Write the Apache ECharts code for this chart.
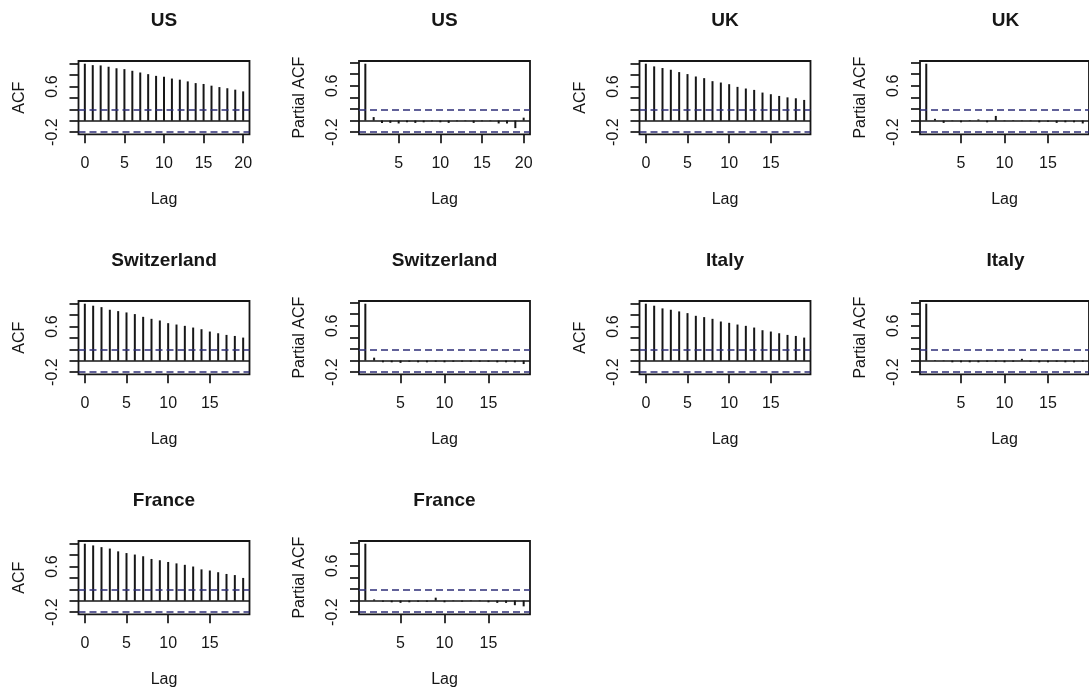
<!DOCTYPE html>
<html>
<head>
<meta charset="utf-8">
<script src="https://cdn.jsdelivr.net/npm/echarts@6/dist/echarts.min.js"></script>
<style>
  html, body { margin: 0; padding: 0; background: #ffffff; }
  #chart { width: 1089px; height: 689px; }
</style>
</head>
<body>
<div id="chart"></div>
<script>
// Sample autocorrelation (ACF, from lag 0) and partial autocorrelation
// (PACF, from lag 1) of each country's series.
const usAcf = [1.00, 0.975, 0.97, 0.947, 0.92, 0.905, 0.876, 0.846, 0.817, 0.787, 0.77,
               0.74, 0.72, 0.69, 0.66, 0.645, 0.615, 0.59, 0.57, 0.545, 0.515];
const usPacf = [0.98, 0.06, -0.04, -0.04, -0.05, -0.03, -0.04, -0.03, -0.01, -0.03,
                -0.04, -0.01, -0.01, -0.04, -0.01, -0.01, -0.05, -0.05, -0.13, 0.05];
const ukAcf = [1.00, 0.953, 0.924, 0.894, 0.853, 0.818, 0.776, 0.747, 0.694, 0.67,
               0.641, 0.594, 0.565, 0.541, 0.494, 0.465, 0.435, 0.41, 0.394, 0.365];
const ukPacf = [0.98, 0.03, -0.04, -0.01, -0.03, 0.01, 0.02, -0.03, 0.08, -0.01,
                0.01, -0.01, -0.01, -0.03, -0.02, -0.04, -0.03, -0.03, -0.05];
const chAcf = [1.00, 0.965, 0.94, 0.894, 0.87, 0.847, 0.818, 0.77, 0.735, 0.706,
               0.659, 0.635, 0.612, 0.582, 0.553, 0.512, 0.482, 0.453, 0.435, 0.406];
const chPacf = [0.98, 0.05, -0.03, -0.03, -0.04, -0.02, -0.03, -0.03, -0.02, -0.03,
                -0.02, -0.02, -0.02, -0.02, -0.02, -0.03, -0.03, -0.03, -0.06];
const itAcf = [1.00, 0.965, 0.918, 0.894, 0.865, 0.835, 0.788, 0.765, 0.735, 0.688,
               0.665, 0.635, 0.612, 0.582, 0.535, 0.512, 0.482, 0.453, 0.435, 0.406];
const itPacf = [0.98, 0.01, -0.01, -0.03, -0.03, -0.03, -0.03, -0.02, -0.02, -0.03,
                -0.02, 0.03, -0.02, -0.03, -0.03, -0.02, -0.03, -0.03, -0.02];
const frAcf = [1.00, 0.97, 0.94, 0.915, 0.866, 0.836, 0.81, 0.78, 0.733, 0.71,
               0.68, 0.655, 0.63, 0.60, 0.55, 0.53, 0.50, 0.47, 0.45, 0.40];
const frPacf = [0.98, 0.02, -0.02, -0.03, -0.04, -0.03, -0.02, -0.02, 0.05, -0.03,
                -0.01, -0.02, -0.01, -0.01, -0.03, -0.04, -0.04, -0.08, -0.10];

// 95% white-noise bound drawn as dashed lines
const ciBound = 0.19;

// Axis ticks and the labels that are printed
const yTickValues = [-0.2, 0, 0.2, 0.4, 0.6, 0.8, 1.0];
const yLabelValues = [-0.2, 0.6];
const xTickStep = 5;

const panels = [
  { title: 'US', kind: 'acf', values: usAcf },
  { title: 'US', kind: 'pacf', values: usPacf },
  { title: 'UK', kind: 'acf', values: ukAcf },
  { title: 'UK', kind: 'pacf', values: ukPacf },
  { title: 'Switzerland', kind: 'acf', values: chAcf },
  { title: 'Switzerland', kind: 'pacf', values: chPacf },
  { title: 'Italy', kind: 'acf', values: itAcf },
  { title: 'Italy', kind: 'pacf', values: itPacf },
  { title: 'France', kind: 'acf', values: frAcf },
  { title: 'France', kind: 'pacf', values: frPacf }
];

// Page layout: 4 columns of plot boxes, 240px apart vertically
const layout = {
  cols: 4,
  left0: 78.5, colStep: 280.5, boxW: 171,
  top0: 61, rowStep: 240, boxH: 73.3,
  titleOffset: 40.5
};

const FONT = '"Liberation Sans", Arial, sans-serif';
const INK = '#161616';
const CI_COLOR = '#2e2e78';

// R-style 4% axis extension around the data range
function padRange(lo, hi) {
  const d = (hi - lo) * 0.04;
  return [lo - d, hi + d];
}

const grids = [], xAxes = [], yAxes = [], series = [], graphics = [];

panels.forEach((p, i) => {
  const row = Math.floor(i / layout.cols);
  const col = i % layout.cols;
  const left = layout.left0 + col * layout.colStep;
  const top = layout.top0 + row * layout.rowStep;

  const firstLag = p.kind === 'acf' ? 0 : 1;
  const data = p.values.map((v, k) => [firstLag + k, v]);
  const lastLag = firstLag + p.values.length - 1;

  const [xMin, xMax] = padRange(firstLag, lastLag);
  const yLo = Math.min(-ciBound, ...p.values);
  const yHi = Math.max(ciBound, ...p.values);
  const [yMin, yMax] = padRange(yLo, yHi);

  const xTicks = [];
  for (let t = Math.ceil(firstLag / xTickStep) * xTickStep; t <= lastLag; t += xTickStep) xTicks.push(t);

  grids.push({
    left: left, top: top, width: layout.boxW, height: layout.boxH,
    show: true, borderColor: INK, borderWidth: 1.8, backgroundColor: 'transparent',
    containLabel: false
  });

  xAxes.push({
    gridIndex: i, type: 'value', min: xMin, max: xMax,
    name: 'Lag', nameLocation: 'middle', nameGap: 57,
    nameTextStyle: { fontFamily: FONT, fontSize: 16, color: INK },
    axisLine: { show: false, onZero: false },
    axisTick: { show: true, length: 9, customValues: xTicks, lineStyle: { color: INK, width: 1.7 } },
    axisLabel: { customValues: xTicks, margin: 21, fontFamily: FONT, fontSize: 16, color: INK },
    splitLine: { show: false }
  });

  yAxes.push({
    gridIndex: i, type: 'value', min: yMin, max: yMax,
    name: p.kind === 'acf' ? 'ACF' : 'Partial ACF',
    nameLocation: 'middle', nameGap: 51,
    nameTextStyle: { fontFamily: FONT, fontSize: 16, color: INK },
    axisLine: { show: false, onZero: false },
    axisTick: { show: true, length: 9, customValues: yTickValues, lineStyle: { color: INK, width: 1.7 } },
    axisLabel: {
      customValues: yLabelValues, rotate: 90, margin: 18,
      fontFamily: FONT, fontSize: 16, color: INK,
      formatter: v => Number(v).toFixed(1)
    },
    splitLine: { show: false }
  });

  series.push({
    type: 'custom',
    xAxisIndex: i, yAxisIndex: i,
    data: data,
    silent: true,
    animation: false,
    renderItem: (params, api) => {
      const base = api.coord([api.value(0), 0]);
      const tip = api.coord([api.value(0), api.value(1)]);
      return {
        type: 'line',
        shape: { x1: base[0], y1: base[1], x2: tip[0], y2: tip[1] },
        style: { stroke: INK, lineWidth: 2 }
      };
    },
    markLine: {
      silent: true, animation: false, symbol: 'none', z: 10,
      label: { show: false },
      data: [
        { yAxis: 0, lineStyle: { color: INK, type: 'solid', width: 1.6 } },
        { yAxis: ciBound, lineStyle: { color: CI_COLOR, type: [7, 4], width: 1.7 } },
        { yAxis: -ciBound, lineStyle: { color: CI_COLOR, type: [7, 4], width: 1.7 } }
      ]
    }
  });

  graphics.push({
    type: 'text',
    x: left + layout.boxW / 2,
    y: top - layout.titleOffset,
    style: {
      text: p.title,
      font: 'bold 19px ' + FONT,
      fill: INK,
      align: 'center',
      verticalAlign: 'middle'
    }
  });
});

const chart = echarts.init(document.getElementById('chart'), null, { renderer: 'canvas' });
chart.setOption({
  backgroundColor: '#ffffff',
  animation: false,
  grid: grids,
  xAxis: xAxes,
  yAxis: yAxes,
  series: series,
  graphic: { elements: graphics }
});
</script>
</body>
</html>
